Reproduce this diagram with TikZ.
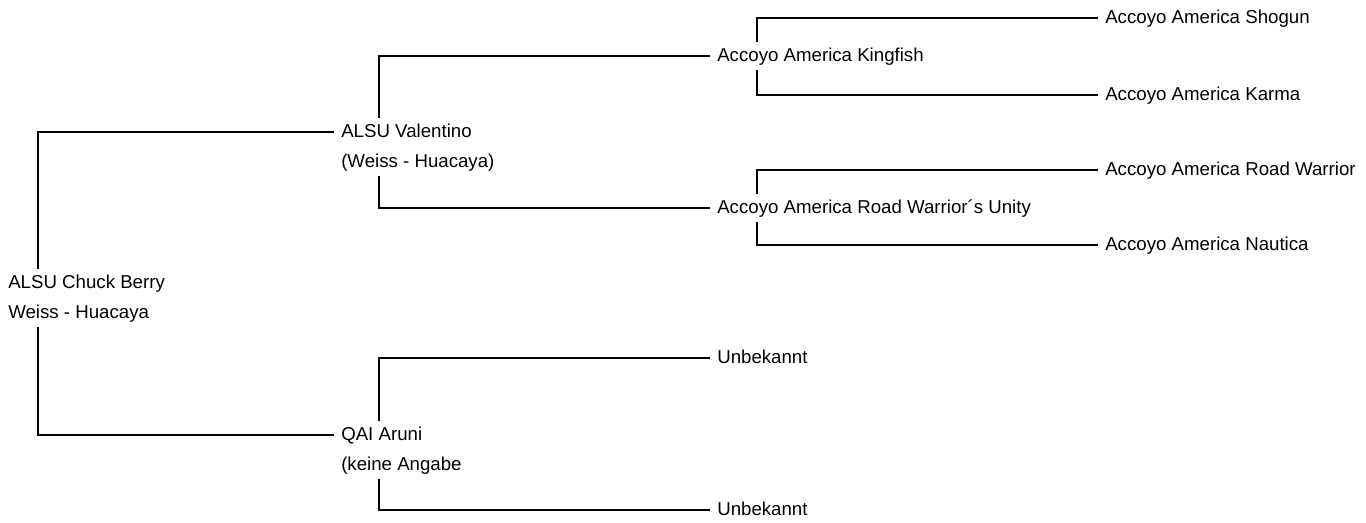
\documentclass[tikz,border=0pt]{standalone}
\usepackage{fontspec}
\setmainfont{Liberation Sans}
\usepackage{tikz}
\usetikzlibrary{positioning}

\begin{document}
\begin{tikzpicture}[x=0.75pt, y=-0.75pt,
  ahn/.style={anchor=west, inner xsep=5.25pt, inner ysep=3.75pt,
    text height=10.5pt, text depth=3pt, font=\fontsize{14}{17}\selectfont},
  linie/.style={line width=0.9pt}]
  \useasboundingbox (0,0) rectangle (1366,522);

  % Generation 1
  \node[ahn] (chuck) at (1,283) {ALSU Chuck Berry};
  \node[ahn] (chucksub) at (1,313) {Weiss - Huacaya};

  % Generation 2
  \node[ahn] (valentino) at (334,132) {ALSU Valentino};
  \node[ahn] (valsub) at (334,162) {(Weiss - Huacaya)};
  \node[ahn] (aruni) at (334,435) {QAI Aruni};
  \node[ahn] (arunisub) at (334,465) {(keine Angabe};

  % Generation 3
  \node[ahn] (kingfish) at (710,56) {Accoyo America Kingfish};
  \node[ahn] (unity) at (710,208) {Accoyo America Road Warrior´s Unity};
  \node[ahn] (unbek1) at (710,358) {Unbekannt};
  \node[ahn] (unbek2) at (710,510) {Unbekannt};

  % Generation 4
  \node[ahn] (shogun) at (1098,18) {Accoyo America Shogun};
  \node[ahn] (karma) at (1098,95) {Accoyo America Karma};
  \node[ahn] (warrior) at (1098,170) {Accoyo America Road Warrior};
  \node[ahn] (nautica) at (1098,245) {Accoyo America Nautica};

  % Verbindungen
  \draw[linie] (chuck.north -| 38,0) |- (valentino.west);
  \draw[linie] (chucksub.south -| 38,0) |- (aruni.west);
  \draw[linie] (valentino.north -| 379,0) |- (kingfish.west);
  \draw[linie] (valsub.south -| 379,0) |- (unity.west);
  \draw[linie] (aruni.north -| 379,0) |- (unbek1.west);
  \draw[linie] (arunisub.south -| 379,0) |- (unbek2.west);
  \draw[linie] (kingfish.north -| 757,0) |- (shogun.west);
  \draw[linie] (kingfish.south -| 757,0) |- (karma.west);
  \draw[linie] (unity.north -| 757,0) |- (warrior.west);
  \draw[linie] (unity.south -| 757,0) |- (nautica.west);
\end{tikzpicture}
\end{document}
